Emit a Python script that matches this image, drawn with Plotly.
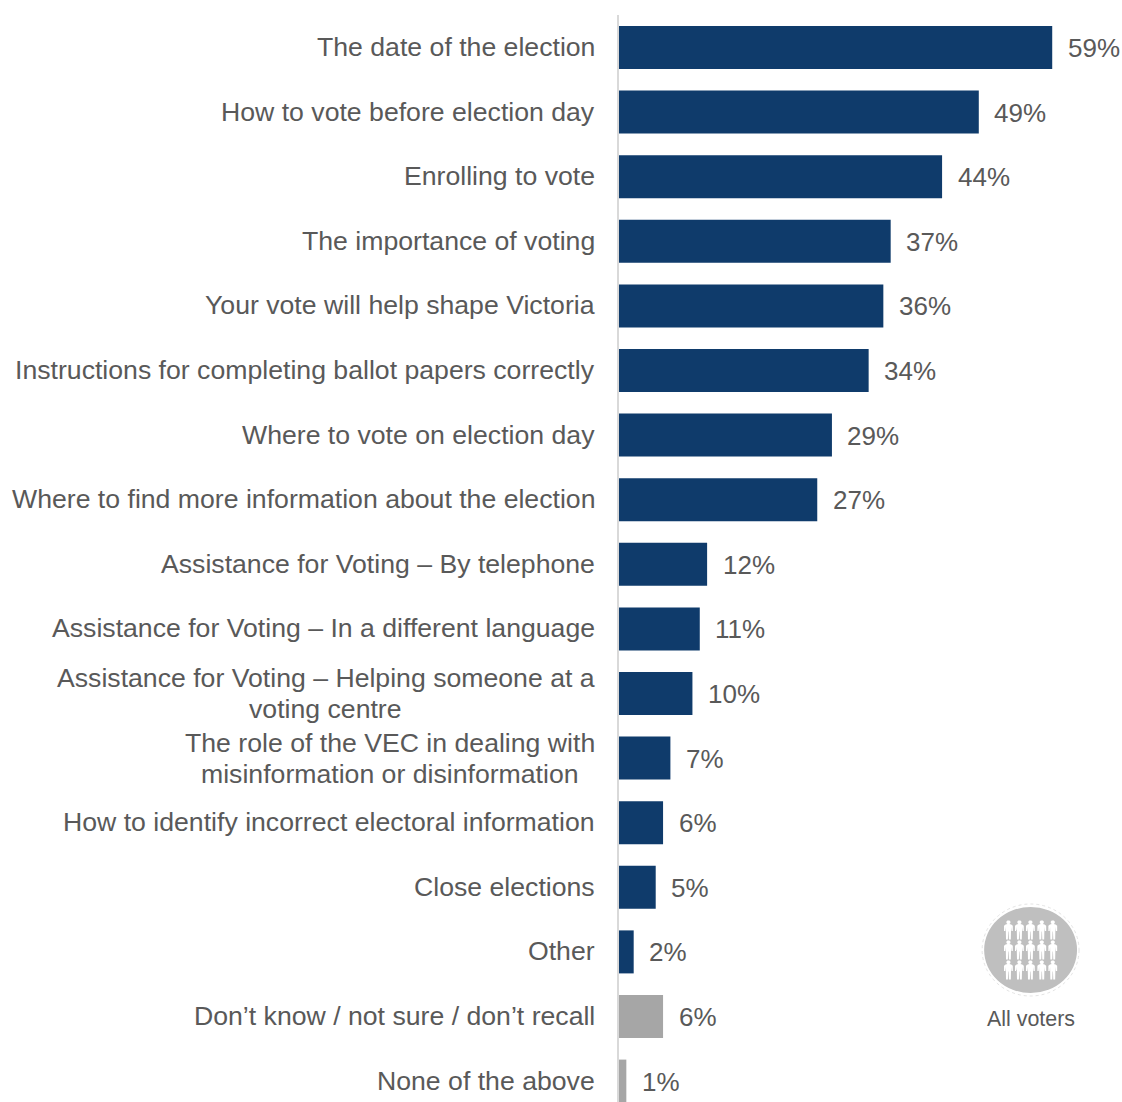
import plotly.graph_objects as go

categories = [
    "The date of the election",
    "How to vote before election day",
    "Enrolling to vote",
    "The importance of voting",
    "Your vote will help shape Victoria",
    "Instructions for completing ballot papers correctly",
    "Where to vote on election day",
    "Where to find more information about the election",
    "Assistance for Voting – By telephone",
    "Assistance for Voting – In a different language",
    "Assistance for Voting – Helping someone at a\nvoting centre",
    "The role of the VEC in dealing with\nmisinformation or disinformation",
    "How to identify incorrect electoral information",
    "Close elections",
    "Other",
    "Don’t know / not sure / don’t recall",
    "None of the above",
]
values = [59, 49, 44, 37, 36, 34, 29, 27, 12, 11, 10, 7, 6, 5, 2, 6, 1]
non_answers = {"Don’t know / not sure / don’t recall", "None of the above"}

NAVY = "#0f3b6b"
GREY = "#a6a6a6"
TEXT = "#595959"
FONT = "Liberation Sans"

W, H = 1122, 1102
LEFT, TOP = 618.5, 15
PX_PER_UNIT = 7.35
ROW_PITCH = 64.6
FIRST_ROW = 47.5
# horizontal centre of each wrapped label block
BLOCK_CENTRE = {10: 325, 11: 389.5}


def paper_x(px):
    return (px - LEFT) / (W - LEFT)


def paper_y(py):
    return 1 - (py - TOP) / (H - TOP)


fig = go.Figure(
    go.Bar(
        x=values,
        y=categories,
        orientation="h",
        width=43 / ROW_PITCH,
        marker=dict(color=[GREY if c in non_answers else NAVY for c in categories], line_width=0),
        hoverinfo="x+y",
    )
)

annotations = []
for row, (cat, val) in enumerate(zip(categories, values)):
    # category labels: one line right-aligned, two lines centred on each other
    lines = cat.split("\n")
    for i, line in enumerate(lines):
        if len(lines) == 1:
            pos = dict(x=paper_x(596), xanchor="right", yshift=0.6)
        else:
            pos = dict(x=paper_x(BLOCK_CENTRE[row]), xanchor="center", yshift=15.5 - 31 * i)
        annotations.append(
            dict(text=line, xref="paper", yref="y", y=cat, showarrow=False,
                 font=dict(family=FONT, size=26.65, color=TEXT), **pos)
        )
    annotations.append(
        dict(text=f"{val}%", xref="x", yref="y", x=val, y=cat, xanchor="left",
             xshift=13.5, yshift=-0.5, showarrow=False,
             font=dict(family=FONT, size=26, color=TEXT))
    )

annotations.append(
    dict(text="All voters", xref="paper", yref="paper", x=paper_x(1031), y=paper_y(1019),
         xanchor="center", yanchor="middle", showarrow=False,
         font=dict(family=FONT, size=21.4, color=TEXT))
)

# audience badge: a grey disc with three rows of five figures
CX, CY = 1030.5, 950
shapes = [
    dict(type="circle", xref="paper", yref="paper",
         x0=paper_x(CX - 48.5), x1=paper_x(CX + 48.5),
         y0=paper_y(CY + 46), y1=paper_y(CY - 46),
         line=dict(color="#e4e4e4", width=1, dash="dot"), fillcolor="rgba(0,0,0,0)", layer="above"),
    dict(type="circle", xref="paper", yref="paper",
         x0=paper_x(CX - 46.5), x1=paper_x(CX + 46.5),
         y0=paper_y(CY + 43), y1=paper_y(CY - 43),
         line_width=0, fillcolor="#bfbfbf", layer="above"),
]

# pixel-sized shape paths: absolute polygon segments only, y pointing up
PERSON_OUTLINE = [
    (-1.0, 9.5), (1.0, 9.5), (2.0, 8.5), (2.0, 6.9), (1.0, 6.0),
    (2.8, 5.6), (4.4, 4.2), (4.4, -1.0), (3.1, -1.0), (2.7, 3.0),
    (2.4, -9.5), (0.5, -9.5), (0.2, -1.5), (-0.2, -1.5), (-0.5, -9.5),
    (-2.4, -9.5), (-2.7, 3.0), (-3.1, -1.0), (-4.4, -1.0), (-4.4, 4.2),
    (-2.8, 5.6), (-1.0, 6.0), (-2.0, 6.9), (-2.0, 8.5),
]
PERSON = "M " + " L ".join(f"{x},{y}" for x, y in PERSON_OUTLINE) + " Z"
for col_px in (1008.3, 1019.3, 1030.3, 1041.7, 1052.7):
    for row_px in (930, 950, 970):
        shapes.append(
            dict(type="path", path=PERSON, xsizemode="pixel", ysizemode="pixel",
                 xref="paper", yref="paper", xanchor=paper_x(col_px), yanchor=paper_y(row_px),
                 fillcolor="white", line_width=0, layer="above")
        )

fig.update_layout(
    width=W,
    height=H,
    margin=dict(l=LEFT, r=0, t=TOP, b=0, pad=0),
    paper_bgcolor="white",
    plot_bgcolor="white",
    showlegend=False,
    annotations=annotations,
    shapes=shapes,
    xaxis=dict(range=[0, (W - LEFT) / PX_PER_UNIT], visible=False),
    yaxis=dict(
        type="category",
        categoryorder="array",
        categoryarray=categories,
        range=[(H - FIRST_ROW) / ROW_PITCH, (TOP - FIRST_ROW) / ROW_PITCH],
        showticklabels=False,
        ticks="",
        showgrid=False,
        zeroline=False,
        showline=True,
        linecolor="#d9d9d9",
        linewidth=2,
    ),
)

fig.write_html("out.html", config=dict(displayModeBar=False))
